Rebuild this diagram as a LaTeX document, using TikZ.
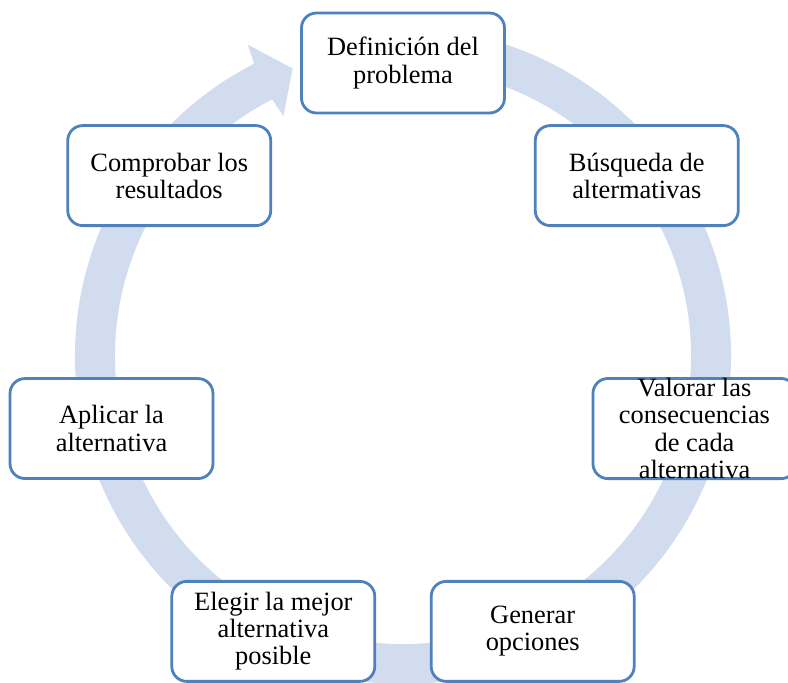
\documentclass[tikz,border=0pt]{standalone}
\usepackage{fontspec}
\setmainfont{Liberation Serif}
\definecolor{bordeazul}{HTML}{4F81BD}
\definecolor{bandaazul}{HTML}{D1DDEE}
\tikzset{
  caja/.style={draw=bordeazul, line width=1.4pt, fill=white, rounded corners=7.5pt,
    minimum width=101.5pt, minimum height=50pt, inner sep=0pt, align=center,
    font=\fontsize{13.2}{13.6}\selectfont},
  banda/.style={fill=bandaazul}
}

\begin{document}
\begin{tikzpicture}[x=0.5pt,y=0.5pt]
\useasboundingbox (-403,-326) rectangle (385,356);
\path[banda] (80:328) arc[start angle=80, end angle=-243, radius=328]
  -- (-243.5:348) -- (-249:308) -- (-243.5:268) -- (-243:288)
  arc[start angle=-243, end angle=80, radius=288] -- cycle; % flecha circular

\node[caja] (definicion) at ([yshift=-3pt]90:299) {Definición del\\problema};
\node[caja] (busqueda) at ([yshift=-3pt]38.57:299) {Búsqueda de\\altermativas};
\node[caja] (valorar) at ([yshift=-3pt]-12.86:299) {Valorar las\\consecuencias\\de cada\\alternativa};
\node[caja] (generar) at ([yshift=-3pt]-64.29:299) {Generar\\opciones};
\node[caja] (elegir) at ([yshift=-3pt]-115.71:299) {Elegir la mejor\\alternativa\\posible};
\node[caja] (aplicar) at ([yshift=-3pt]-167.14:299) {Aplicar la\\alternativa};
\node[caja] (comprobar) at ([yshift=-3pt]141.43:299) {Comprobar los\\resultados};
\end{tikzpicture}
\end{document}
